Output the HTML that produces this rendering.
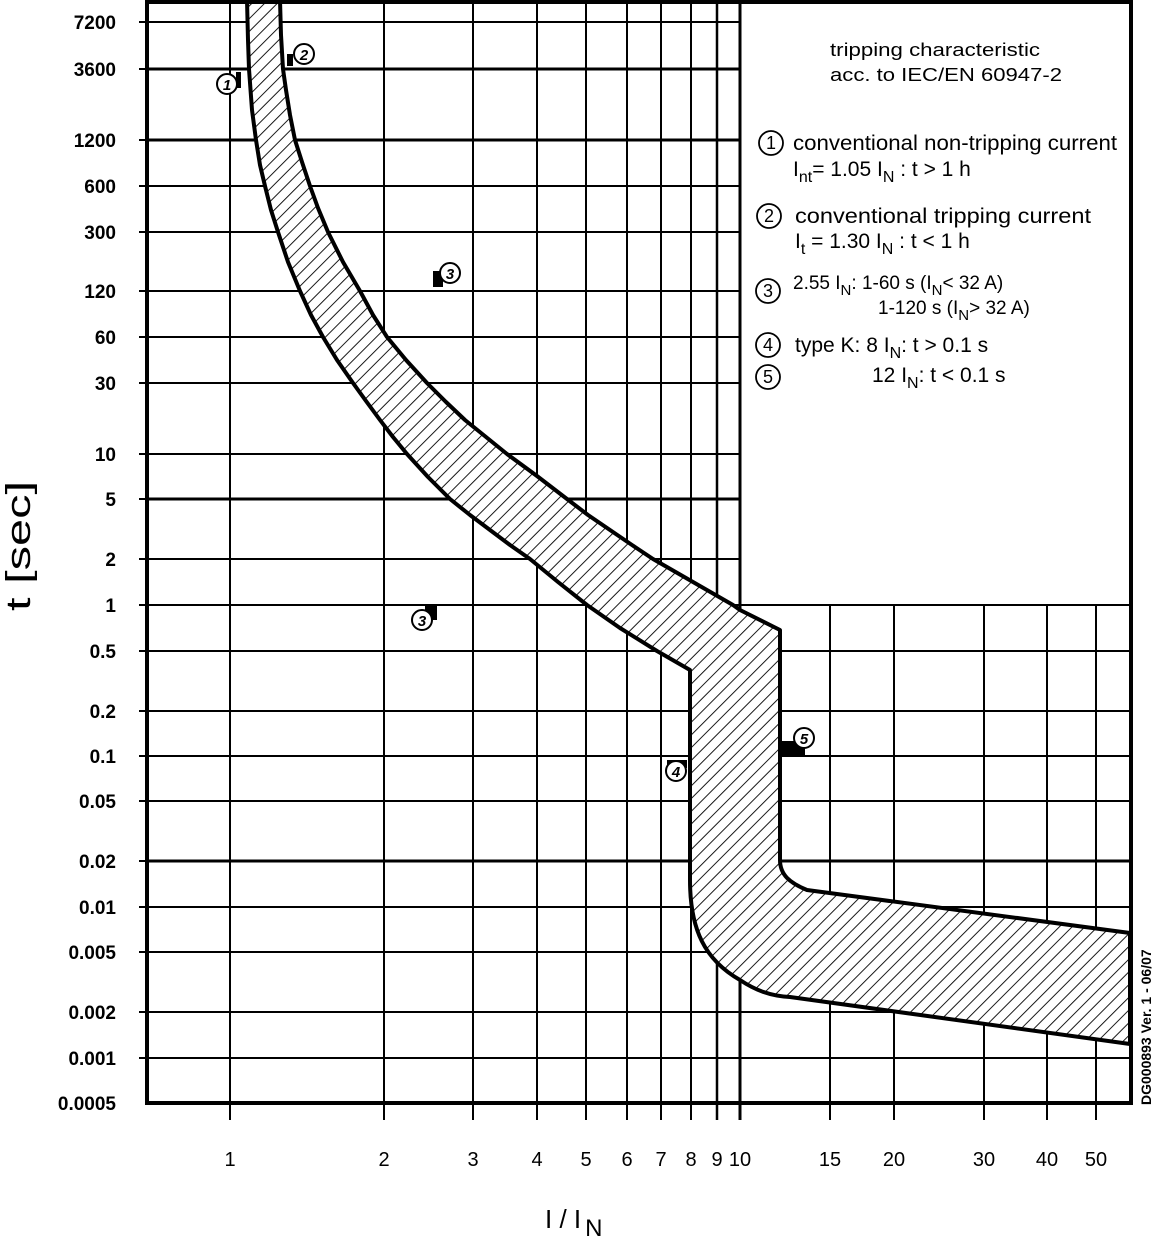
<!DOCTYPE html>
<html><head><meta charset="utf-8"><style>
html,body{margin:0;padding:0;background:#fff;}
svg{display:block;font-family:"Liberation Sans",sans-serif;}
</style></head><body>
<svg width="1156" height="1237" viewBox="0 0 1156 1237" xmlns="http://www.w3.org/2000/svg">
<defs>
<pattern id="h" patternUnits="userSpaceOnUse" width="9" height="9" patternTransform="rotate(45)">
<rect width="9" height="9" fill="#fff"/>
<line x1="0" y1="0" x2="0" y2="9" stroke="#000" stroke-width="1.8"/>
</pattern>
</defs>
<rect width="1156" height="1237" fill="#fff"/>
<g stroke="#000" stroke-width="2">
<line x1="147" y1="22" x2="740" y2="22"/>
<line x1="147" y1="69" x2="740" y2="69" stroke-width="3"/>
<line x1="147" y1="140" x2="740" y2="140" stroke-width="3"/>
<line x1="147" y1="186" x2="740" y2="186"/>
<line x1="147" y1="232" x2="740" y2="232"/>
<line x1="147" y1="291" x2="740" y2="291"/>
<line x1="147" y1="337" x2="740" y2="337"/>
<line x1="147" y1="383" x2="740" y2="383"/>
<line x1="147" y1="454" x2="740" y2="454"/>
<line x1="147" y1="499" x2="740" y2="499" stroke-width="3"/>
<line x1="147" y1="559" x2="740" y2="559"/>
<line x1="147" y1="605" x2="1131" y2="605"/>
<line x1="147" y1="651" x2="1131" y2="651"/>
<line x1="147" y1="711" x2="1131" y2="711"/>
<line x1="147" y1="756" x2="1131" y2="756"/>
<line x1="147" y1="801" x2="1131" y2="801"/>
<line x1="147" y1="861" x2="1131" y2="861" stroke-width="3"/>
<line x1="147" y1="907" x2="1131" y2="907"/>
<line x1="147" y1="952" x2="1131" y2="952"/>
<line x1="147" y1="1012" x2="1131" y2="1012"/>
<line x1="147" y1="1058" x2="1131" y2="1058"/>
<line x1="230" y1="2" x2="230" y2="1120"/>
<line x1="384" y1="2" x2="384" y2="1120"/>
<line x1="473" y1="2" x2="473" y2="1120"/>
<line x1="537" y1="2" x2="537" y2="1120"/>
<line x1="586" y1="2" x2="586" y2="1120"/>
<line x1="627" y1="2" x2="627" y2="1120"/>
<line x1="661" y1="2" x2="661" y2="1120"/>
<line x1="691" y1="2" x2="691" y2="1120"/>
<line x1="717" y1="2" x2="717" y2="1120" stroke-width="2.5"/>
<line x1="740" y1="2" x2="740" y2="1120" stroke-width="3"/>
<line x1="830" y1="605" x2="830" y2="1120"/>
<line x1="894" y1="605" x2="894" y2="1120"/>
<line x1="984" y1="605" x2="984" y2="1120"/>
<line x1="1047" y1="605" x2="1047" y2="1120"/>
<line x1="1096" y1="605" x2="1096" y2="1120"/>
<g stroke-width="2">
<line x1="139" y1="22" x2="147" y2="22"/><line x1="139" y1="69" x2="147" y2="69"/><line x1="139" y1="140" x2="147" y2="140"/><line x1="139" y1="186" x2="147" y2="186"/><line x1="139" y1="232" x2="147" y2="232"/><line x1="139" y1="291" x2="147" y2="291"/><line x1="139" y1="337" x2="147" y2="337"/><line x1="139" y1="383" x2="147" y2="383"/><line x1="139" y1="454" x2="147" y2="454"/><line x1="139" y1="499" x2="147" y2="499"/><line x1="139" y1="559" x2="147" y2="559"/><line x1="139" y1="605" x2="147" y2="605"/><line x1="139" y1="651" x2="147" y2="651"/><line x1="139" y1="711" x2="147" y2="711"/><line x1="139" y1="756" x2="147" y2="756"/><line x1="139" y1="801" x2="147" y2="801"/><line x1="139" y1="861" x2="147" y2="861"/><line x1="139" y1="907" x2="147" y2="907"/><line x1="139" y1="952" x2="147" y2="952"/><line x1="139" y1="1012" x2="147" y2="1012"/><line x1="139" y1="1058" x2="147" y2="1058"/>
</g>
</g>
<path d="M247,0 L248,40 L249,69 L252,110 L256,140 L260,165 L265,186 L271,210 L278,232 L288,262 L300,291 L311,315 L323,337 L337,360 L353,383 L366,401 L380,420 L393,437 L407,454 L428,477 L450,499 L470,515 L490,530 L510,545 L530,559 L558,582 L587,605 L620,628 L657,651 L690,670 L690,880 C690,930 705,960 740,980 C755,990 770,996 790,997 L1130,1044 L1130,933 L807,890 C790,883 780,875 780,860 L780,630 L740,610 L733,605 L693,582 L653,559 L632,545 L610,530 L588,515 L567,499 L537,476 L507,454 L486,437 L465,420 L446,402 L427,383 L406,360 L387,337 L373,315 L360,291 L343,262 L328,232 L318,208 L310,186 L302,162 L295,140 L290,115 L286,90 L283,69 L281,35 L280,0 Z" fill="url(#h)" stroke="#000" stroke-width="4" stroke-linejoin="round"/>
<g stroke="#000" fill="none">
<line x1="147" y1="2" x2="1133" y2="2" stroke-width="4"/>
<line x1="147" y1="0" x2="147" y2="1105" stroke-width="4"/>
<line x1="145" y1="1103" x2="1133" y2="1103" stroke-width="4"/>
<line x1="1131" y1="0" x2="1131" y2="1105" stroke-width="4"/>
</g>
<g font-size="19" font-weight="bold" text-anchor="end" fill="#000">
<text x="116" y="29">7200</text><text x="116" y="76">3600</text><text x="116" y="147">1200</text><text x="116" y="193">600</text><text x="116" y="239">300</text><text x="116" y="298">120</text><text x="116" y="344">60</text><text x="116" y="390">30</text><text x="116" y="461">10</text><text x="116" y="506">5</text><text x="116" y="566">2</text><text x="116" y="612">1</text><text x="116" y="658">0.5</text><text x="116" y="718">0.2</text><text x="116" y="763">0.1</text><text x="116" y="808">0.05</text><text x="116" y="868">0.02</text><text x="116" y="914">0.01</text><text x="116" y="959">0.005</text><text x="116" y="1019">0.002</text><text x="116" y="1065">0.001</text><text x="116" y="1110">0.0005</text>
</g>
<g font-size="20" text-anchor="middle" fill="#000">
<text x="230" y="1166">1</text><text x="384" y="1166">2</text><text x="473" y="1166">3</text><text x="537" y="1166">4</text><text x="586" y="1166">5</text><text x="627" y="1166">6</text><text x="661" y="1166">7</text><text x="691" y="1166">8</text><text x="717" y="1166">9</text><text x="740" y="1166">10</text><text x="830" y="1166">15</text><text x="894" y="1166">20</text><text x="984" y="1166">30</text><text x="1047" y="1166">40</text><text x="1096" y="1166">50</text>
</g>
<text x="545" y="1228" font-size="26" fill="#000">I / I<tspan font-size="24" dy="8" dx="4">N</tspan></text>
<text transform="translate(30,546) rotate(-90)" font-size="34" text-anchor="middle" fill="#000" textLength="130" lengthAdjust="spacingAndGlyphs">t [sec]</text>
<text transform="translate(1151,1105) rotate(-90)" font-size="14" font-weight="bold" fill="#000">DG000893 Ver. 1 - 06/07</text>
<g fill="#000">
<text x="830" y="56" font-size="18" textLength="210" lengthAdjust="spacingAndGlyphs">tripping characteristic</text>
<text x="830" y="81" font-size="18" textLength="232" lengthAdjust="spacingAndGlyphs">acc. to IEC/EN 60947-2</text>
<g fill="none" stroke="#000" stroke-width="1.8">
<circle cx="771" cy="143" r="12"/><circle cx="769" cy="216" r="12"/><circle cx="768" cy="291" r="12"/><circle cx="768" cy="345" r="12"/><circle cx="768" cy="377" r="12"/>
</g>
<g font-size="18" text-anchor="middle"><text x="771" y="149">1</text><text x="769" y="222">2</text><text x="768" y="297">3</text><text x="768" y="351">4</text><text x="768" y="383">5</text></g>
<g font-size="21">
<text x="793" y="150" textLength="324" lengthAdjust="spacingAndGlyphs">conventional non-tripping current</text>
<text x="793" y="176">I<tspan font-size="16" dy="6">nt</tspan><tspan dy="-6">= 1.05 I</tspan><tspan font-size="16" dy="6">N</tspan><tspan dy="-6"> : t &gt; 1 h</tspan></text>
<text x="795" y="223" textLength="296" lengthAdjust="spacingAndGlyphs">conventional tripping current</text>
<text x="795" y="248">I<tspan font-size="16" dy="6">t</tspan><tspan dy="-6"> = 1.30 I</tspan><tspan font-size="16" dy="6">N</tspan><tspan dy="-6"> : t &lt; 1 h</tspan></text>
<text x="793" y="289" font-size="19">2.55 I<tspan font-size="15" dy="6">N</tspan><tspan dy="-6">:  1-60 s (I</tspan><tspan font-size="15" dy="6">N</tspan><tspan dy="-6">&lt; 32 A)</tspan></text>
<text x="878" y="314" font-size="19">1-120 s (I<tspan font-size="15" dy="6">N</tspan><tspan dy="-6">&gt; 32 A)</tspan></text>
<text x="795" y="352">type K:   8 I<tspan font-size="16" dy="6">N</tspan><tspan dy="-6">: t &gt; 0.1 s</tspan></text>
<text x="872" y="382">12 I<tspan font-size="16" dy="6">N</tspan><tspan dy="-6">: t &lt; 0.1 s</tspan></text>
</g>
</g>
<g fill="#000">
<rect x="236" y="72" width="5" height="16"/>
<rect x="287" y="54" width="6" height="12"/>
<rect x="433" y="271" width="10" height="16"/>
<rect x="425" y="606" width="12" height="14"/>
<rect x="667" y="760" width="20" height="8"/>
<rect x="781" y="741" width="24" height="14"/>
</g>
<g fill="#fff" stroke="#000" stroke-width="2">
<circle cx="227" cy="84" r="10"/><circle cx="304" cy="54" r="10"/><circle cx="450" cy="273" r="10"/><circle cx="422" cy="620" r="10"/><circle cx="676" cy="771" r="10"/><circle cx="804" cy="738" r="10"/>
</g>
<g font-size="15" font-weight="bold" text-anchor="middle" font-style="italic" fill="#000">
<text x="227" y="90">1</text><text x="304" y="60">2</text><text x="450" y="279">3</text><text x="422" y="626">3</text><text x="676" y="777">4</text><text x="804" y="744">5</text>
</g>
</svg>
</body></html>
